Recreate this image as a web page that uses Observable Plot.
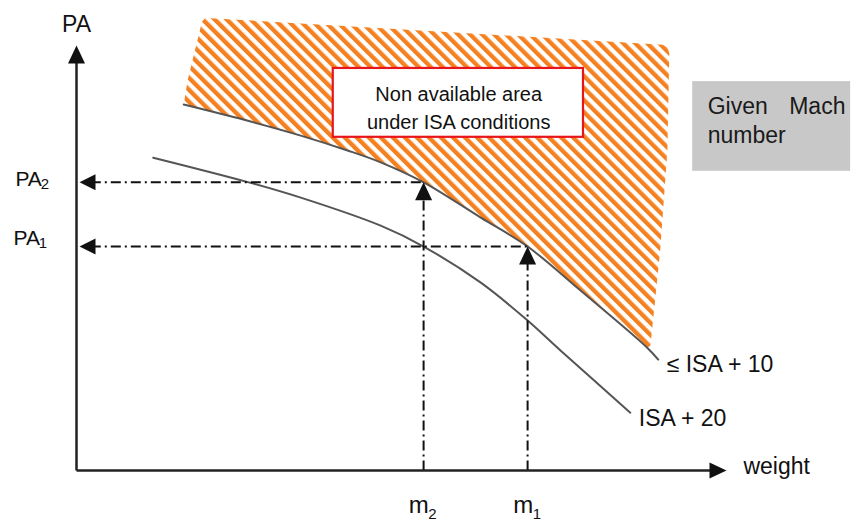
<!DOCTYPE html>
<html>
<head>
<meta charset="utf-8">
<script src="https://cdn.jsdelivr.net/npm/d3@7"></script>
<script src="https://cdn.jsdelivr.net/npm/@observablehq/plot@0.6"></script>
<style>
  html, body { margin: 0; padding: 0; background: #fff; }
</style>
</head>
<body>
<div id="chart"></div>
<script>
// ---- data (weight, pressure altitude in arbitrary chart units 0..100) ----
const upperWeight = [16.5, 26.8, 34.5, 41.7, 46.8, 53.4, 62.2, 69.4, 77.5, 87.8, 89.5];
const upperPA     = [86.1, 82.1, 78.8, 75.3, 72.5, 67.8, 59.5, 52.7, 42.4, 28.9, 26.1];
const lowerWeight = [11.8, 26.5, 34.5, 46.8, 53.4, 62.2, 69.4, 74.5, 85.2];
const lowerPA     = [73.6, 67.8, 64.2, 57.6, 52.7, 44.2, 35.3, 28.2, 13.6];
// outer boundary of the non available (hatched) area
const hatchWeight = [88.3, 89.8, 90.9, 91.2, 90.9, 90.2, 19.8, 19.3, 17.1];
const hatchPA     = [29.4, 51.8, 75.3, 98.2, 99.6, 100.2, 106.5, 105.6, 91.8];
const massValues  = [53.4, 69.4];   // m2, m1
const paValues    = [67.8, 52.7];   // PA2, PA1
const massNames   = ["m", "m"];
const massSubs    = ["2", "1"];
const paSubs      = ["2", "1"];
const curveNames  = ["\u2264 ISA + 10", "ISA + 20"];

const upper = upperWeight.map((w, i) => ({w, pa: upperPA[i]}));
const lower = lowerWeight.map((w, i) => ({w, pa: lowerPA[i]}));
const hatchPoly = upper.filter(d => d.w <= 88)
  .concat(hatchWeight.map((w, i) => ({w, pa: hatchPA[i]})));

const orange = "#f5801f";
const font = "'Liberation Sans', Arial, sans-serif";

function arrowSymbol(dx, dy, len, half) {
  return {
    draw(ctx) {
      const bx = -dx * len, by = -dy * len;
      const px = -dy * half, py = dx * half;
      ctx.moveTo(0, 0);
      ctx.lineTo(bx + px, by + py);
      ctx.lineTo(bx - px, by - py);
      ctx.closePath();
    }
  };
}
const arrowUp = arrowSymbol(0, -1, 18, 8.5);
const arrowRight = arrowSymbol(1, 0, 17, 8);
const arrowLeft = arrowSymbol(-1, 0, 16, 8);

const defsMark = () => {
  const defs = d3.create("svg:defs");
  const p = defs.append("pattern")
    .attr("id", "hatch")
    .attr("patternUnits", "userSpaceOnUse")
    .attr("width", 8.5).attr("height", 8.5)
    .attr("patternTransform", "rotate(-45)");
  p.append("rect").attr("width", 8.5).attr("height", 8.5).attr("fill", "white");
  p.append("rect").attr("width", 4.3).attr("height", 8.5).attr("fill", orange);
  return defs.node();
};

const dash = "10,4,2,4";
const axisColor = "#222";

const chart = Plot.plot({
  width: 854,
  height: 521,
  marginLeft: 76,
  marginRight: 128,
  marginTop: 45,
  marginBottom: 51,
  x: {domain: [0, 100], axis: null},
  y: {domain: [0, 100], axis: null},
  style: {fontFamily: font, background: "white", overflow: "visible", color: "#111"},
  marks: [
    defsMark,
    // hatched area
    Plot.line(hatchPoly, {x: "w", y: "pa", fill: "url(#hatch)", stroke: "none"}),
    // red label box
    Plot.rect([0], {x1: 39.5, x2: 78.0, y1: 78.4, y2: 94.6, fill: "white", stroke: "#e8141b", strokeWidth: 2.2}),
    Plot.text(["Non available area\nunder ISA conditions"], {x: 58.8, y: 85.7, text: d => d, fontSize: 20, lineHeight: 1.375, fill: "#111"}),
    // grey info box
    Plot.rect([0], {x1: 94.8, x2: 119.1, y1: 70.4, y2: 91.5, fill: "#c8c8c8"}),
    Plot.text(["Given"], {x: 97.1, y: 85.7, text: d => d, fontSize: 23, textAnchor: "start", fill: "#1a1a1a"}),
    Plot.text(["Mach"], {x: 118.3, y: 85.7, text: d => d, fontSize: 23, textAnchor: "end", fill: "#1a1a1a"}),
    Plot.text(["number"], {x: 97.1, y: 78.7, text: d => d, fontSize: 23, textAnchor: "start", fill: "#1a1a1a"}),
    // curves
    Plot.line(upper, {x: "w", y: "pa", stroke: "#555", strokeWidth: 2, curve: "catmull-rom"}),
    Plot.line(lower, {x: "w", y: "pa", stroke: "#555", strokeWidth: 2, curve: "catmull-rom"}),
    // dash-dot construction lines
    Plot.link(massValues, {x1: 2.2, x2: d => d, y1: (d, i) => paValues[i], y2: (d, i) => paValues[i], stroke: "#111", strokeWidth: 2, strokeDasharray: dash}),
    Plot.link(massValues, {x1: d => d, x2: d => d, y1: 0, y2: (d, i) => paValues[i] - 3, stroke: "#111", strokeWidth: 2, strokeDasharray: dash}),
    Plot.dot(massValues, {x: d => d, y: (d, i) => paValues[i], symbol: arrowUp, fill: "#111", stroke: "none"}),
    Plot.dot(paValues, {x: 0.46, y: d => d, symbol: arrowLeft, fill: "#111", stroke: "none"}),
    // axes
    Plot.link([0], {x1: 0, y1: 0, x2: 97.5, y2: 0, stroke: axisColor, strokeWidth: 2.5}),
    Plot.link([0], {x1: 0, y1: 0, x2: 0, y2: 97, stroke: axisColor, strokeWidth: 2.5}),
    Plot.dot([0], {x: 100, y: 0, symbol: arrowRight, fill: "#111", stroke: "none"}),
    Plot.dot([0], {x: 0, y: 100, symbol: arrowUp, fill: "#111", stroke: "none"}),
    // axis labels
    Plot.text(["PA"], {x: 0, y: 104.8, text: d => d, fontSize: 23, fill: "#111"}),
    Plot.text(["weight"], {x: 102.6, y: 1.0, text: d => d, fontSize: 23, textAnchor: "start", fill: "#111"}),
    // curve labels
    Plot.text(curveNames, {x: [90.8, 86.5], y: [25.0, 12.1], text: d => d, fontSize: 23, textAnchor: "start", fill: "#111"}),
    // PA tick labels
    Plot.text(paValues, {x: [-9.4, -9.7], y: [68.5, 54.7], text: () => "PA", fontSize: 21, textAnchor: "start", fill: "#111"}),
    Plot.text(paSubs, {x: [-5.5, -5.8], y: [67.3, 53.6], text: d => d, fontSize: 15, textAnchor: "start", fill: "#111"}),
    // mass tick labels
    Plot.text(massNames, {x: [51.1, 67.2], y: [-8.3, -8.3], text: d => d, fontSize: 24, textAnchor: "start", fill: "#111"}),
    Plot.text(massSubs, {x: [54.1, 70.2], y: [-10.2, -10.2], text: d => d, fontSize: 15, textAnchor: "start", fill: "#111"})
  ]
});
document.getElementById("chart").append(chart);
</script>
</body>
</html>
